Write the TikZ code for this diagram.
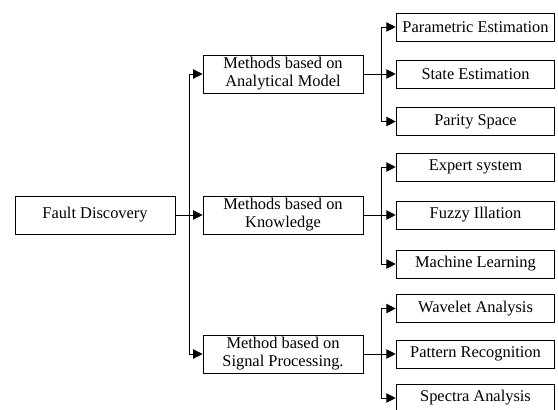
\documentclass[tikz,border=0pt]{standalone}
\usepackage{fontspec}
\setmainfont{Liberation Serif}
\usepackage{tikz}
\usetikzlibrary{arrows.meta,calc}
\tikzset{
  bx/.style={draw=black, line width=0.7pt, align=center, inner sep=0pt, font=\fontsize{12.3}{13.5}\selectfont},
  root/.style={bx, minimum width=120pt, minimum height=28.5pt},
  mid/.style={bx, minimum width=120pt, minimum height=28.5pt},
  leaf/.style={bx, minimum width=119pt, minimum height=21pt},
  arr/.style={-{Triangle[length=7pt, width=7pt]}, line width=0.65pt, color=black},
}

\begin{document}
\begin{tikzpicture}[x=0.75pt, y=-0.75pt]
    \useasboundingbox[fill=white] (0,0) rectangle (558,410);
    \node[root] (fd) at (95,215) {Fault Discovery};
    \node[mid] (am) at (283,74) {Methods based on\\Analytical Model};
    \node[mid] (kn) at (283,215) {Methods based on\\Knowledge};
    \node[mid] (sp) at (283,354) {Method based on\\Signal Processing.};
    \node[leaf] (pe) at (475.5,27) {Parametric Estimation};
    \node[leaf] (se) at (475.5,74) {State Estimation};
    \node[leaf] (ps) at (475.5,121.5) {Parity Space};
    \node[leaf] (es) at (475.5,167) {Expert system};
    \node[leaf] (fi) at (475.5,215) {Fuzzy Illation};
    \node[leaf] (ml) at (475.5,264) {Machine Learning};
    \node[leaf] (wa) at (475.5,308.5) {Wavelet Analysis};
    \node[leaf] (pr) at (475.5,354) {Pattern Recognition};
    \node[leaf] (sa) at (475.5,398) {Spectra Analysis};
    \coordinate (j0) at ($(fd.east)!0.5!(kn.west)$);
    \coordinate (j1) at ($(am.east)!0.55!(se.west)$);
    \coordinate (j2) at ($(kn.east)!0.55!(fi.west)$);
    \coordinate (j3) at ($(sp.east)!0.55!(pr.west)$);
    \draw[arr] (fd) -- (kn); \draw[arr] (j0) |- (am.west); \draw[arr] (j0) |- (sp.west);
    \draw[arr] (am) -- (se); \draw[arr] (j1) |- (pe.west); \draw[arr] (j1) |- (ps.west);
    \draw[arr] (kn) -- (fi); \draw[arr] (j2) |- (es.west); \draw[arr] (j2) |- (ml.west);
    \draw[arr] (sp) -- (pr); \draw[arr] (j3) |- (wa.west); \draw[arr] (j3) |- (sa.west);
\end{tikzpicture}
\end{document}
